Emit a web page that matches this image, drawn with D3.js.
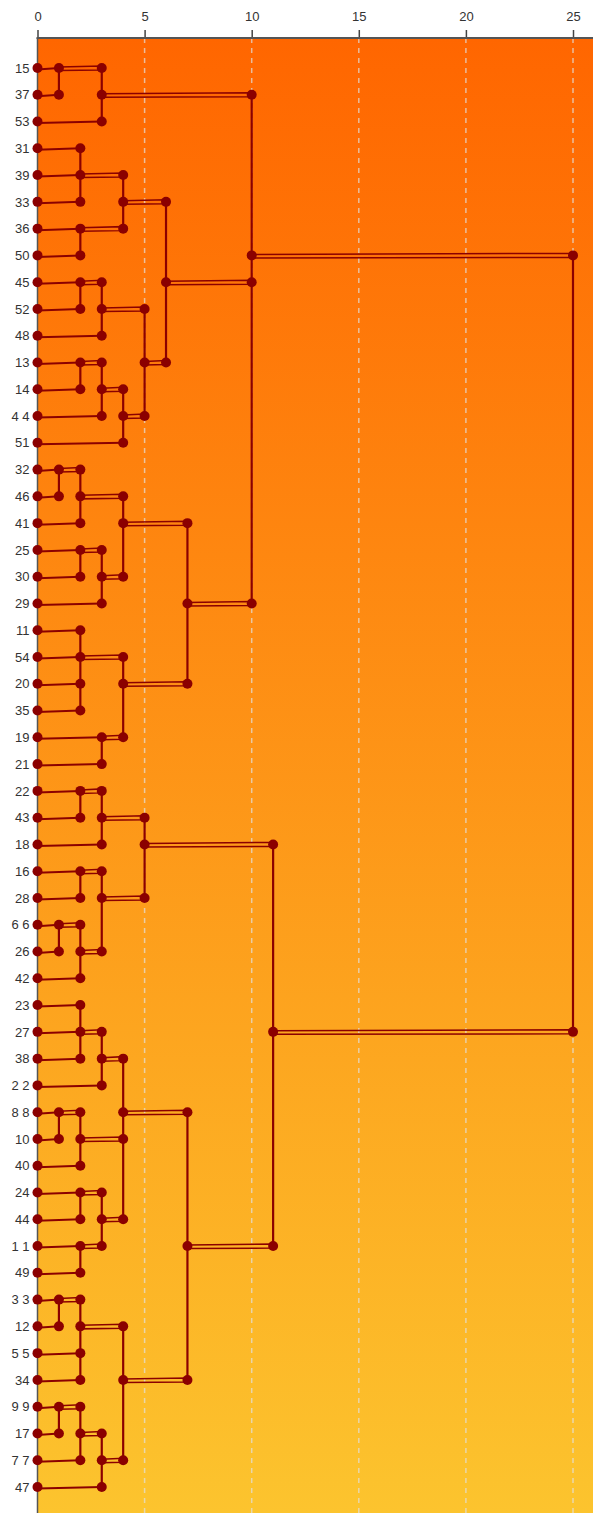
<!DOCTYPE html>
<html>
<head>
<meta charset="utf-8">
<script src="https://cdn.jsdelivr.net/npm/d3@7/dist/d3.min.js"></script>
<style>
  body { margin: 0; background: #fff; }
  text { font-family: "Liberation Sans", Arial, sans-serif; }
</style>
</head>
<body>
<div id="chart"></div>
<script>
// Row labels, top to bottom
const leaves = ["15", "37", "53", "31", "39", "33", "36", "50", "45", "52", "48", "13", "14", "4 4", "51",
  "32", "46", "41", "25", "30", "29", "11", "54", "20", "35", "19", "21", "22", "43", "18", "16", "28",
  "6 6", "26", "42", "23", "27", "38", "2 2", "8 8", "10", "40", "24", "44", "1 1", "49", "3 3", "12",
  "5 5", "34", "9 9", "17", "7 7", "47"];

const xTicks = [0, 5, 10, 15, 20, 25];

// merges: [height, row the new node sits on, children as [row, child height]]
const merges = [
  [1, "15", [["15", 0], ["37", 0]]],
  [3, "37", [["15", 1], ["53", 0]]],
  [2, "39", [["31", 0], ["39", 0], ["33", 0]]],
  [2, "36", [["36", 0], ["50", 0]]],
  [4, "33", [["39", 2], ["36", 2]]],
  [2, "45", [["45", 0], ["52", 0]]],
  [3, "52", [["45", 2], ["48", 0]]],
  [2, "13", [["13", 0], ["14", 0]]],
  [3, "14", [["13", 2], ["4 4", 0]]],
  [4, "4 4", [["14", 3], ["51", 0]]],
  [5, "13", [["52", 3], ["4 4", 4]]],
  [6, "45", [["33", 4], ["13", 5]]],
  [1, "32", [["32", 0], ["46", 0]]],
  [2, "46", [["32", 1], ["41", 0]]],
  [2, "25", [["25", 0], ["30", 0]]],
  [3, "30", [["25", 2], ["29", 0]]],
  [4, "41", [["46", 2], ["30", 3]]],
  [2, "54", [["11", 0], ["54", 0], ["20", 0], ["35", 0]]],
  [3, "19", [["19", 0], ["21", 0]]],
  [4, "20", [["54", 2], ["19", 3]]],
  [7, "29", [["41", 4], ["20", 4]]],
  [10, "50", [["37", 3], ["45", 6], ["29", 7]]],
  [2, "22", [["22", 0], ["43", 0]]],
  [3, "43", [["22", 2], ["18", 0]]],
  [2, "16", [["16", 0], ["28", 0]]],
  [1, "6 6", [["6 6", 0], ["26", 0]]],
  [2, "26", [["6 6", 1], ["42", 0]]],
  [3, "28", [["16", 2], ["26", 2]]],
  [5, "18", [["43", 3], ["28", 3]]],
  [2, "27", [["23", 0], ["27", 0], ["38", 0]]],
  [3, "38", [["27", 2], ["2 2", 0]]],
  [1, "8 8", [["8 8", 0], ["10", 0]]],
  [2, "10", [["8 8", 1], ["40", 0]]],
  [2, "24", [["24", 0], ["44", 0]]],
  [2, "1 1", [["1 1", 0], ["49", 0]]],
  [3, "44", [["24", 2], ["1 1", 2]]],
  [4, "8 8", [["38", 3], ["10", 2], ["44", 3]]],
  [1, "3 3", [["3 3", 0], ["12", 0]]],
  [2, "12", [["3 3", 1], ["5 5", 0], ["34", 0]]],
  [1, "9 9", [["9 9", 0], ["17", 0]]],
  [2, "17", [["9 9", 1], ["7 7", 0]]],
  [3, "7 7", [["17", 2], ["47", 0]]],
  [4, "34", [["12", 2], ["7 7", 3]]],
  [7, "1 1", [["8 8", 4], ["34", 4]]],
  [11, "27", [["18", 5], ["1 1", 7]]],
  [25, "50", [["50", 10], ["27", 11]]]
];

const width = 593, height = 1513;
const plotTop = 38, plotLeft = 37.5;
const lineColor = "#8b0000";

const svg = d3.select("#chart")
  .append("svg")
  .attr("width", width)
  .attr("height", height);

// Scales
const x = d3.scaleLinear().domain([0, 25]).range([plotLeft, 573]);
const y = d3.scalePoint().domain(leaves).range([plotTop, 1517]).padding(1.12);

// Background gradient
const grad = svg.append("defs").append("linearGradient")
  .attr("id", "bg").attr("x1", 0).attr("y1", 0).attr("x2", 0).attr("y2", 1);
grad.append("stop").attr("offset", "0%").attr("stop-color", "#ff6600");
grad.append("stop").attr("offset", "100%").attr("stop-color", "#fcc42e");

svg.append("rect")
  .attr("x", plotLeft).attr("y", plotTop)
  .attr("width", width - plotLeft).attr("height", height - plotTop)
  .attr("fill", "url(#bg)");

// Dashed grid
svg.append("g")
  .selectAll("line")
  .data(xTicks.filter(d => d > 0))
  .join("line")
  .attr("x1", d => x(d)).attr("x2", d => x(d))
  .attr("y1", plotTop).attr("y2", height)
  .attr("stroke", "#e0e0e0")
  .attr("stroke-opacity", 0.7)
  .attr("stroke-width", 1.5)
  .attr("stroke-dasharray", "5,5");

// Top axis
const xAxis = svg.append("g")
  .attr("transform", `translate(0,${plotTop})`)
  .call(d3.axisTop(x).tickValues(xTicks).tickSize(8).tickPadding(9));
xAxis.select(".domain").remove();
xAxis.selectAll(".tick line").attr("stroke", "#444").attr("stroke-width", 1.5);
xAxis.selectAll(".tick text").attr("fill", "#333").attr("font-size", 13);
svg.append("line")
  .attr("x1", plotLeft - 1).attr("x2", width)
  .attr("y1", plotTop).attr("y2", plotTop)
  .attr("stroke", "#555").attr("stroke-width", 2);

// Left axis
const yAxis = svg.append("g")
  .attr("transform", `translate(${plotLeft},0)`)
  .call(d3.axisLeft(y).tickSize(0).tickPadding(8));
yAxis.select(".domain").remove();
yAxis.selectAll(".tick text").attr("fill", "#333").attr("font-size", 13);
svg.append("line")
  .attr("x1", plotLeft).attr("x2", plotLeft)
  .attr("y1", plotTop).attr("y2", height)
  .attr("stroke", "#555").attr("stroke-width", 1.5);

// Links
const links = svg.append("g").attr("fill", "none").attr("stroke", lineColor);
const points = new Map();
const addPoint = (h, row) => points.set(h + "|" + row, [h, row]);

merges.forEach(([h, at, kids]) => {
  kids.forEach(([row, ch]) => {
    const x1 = x(ch), x2 = x(h), yy = y(row);
    if (ch === 0) {
      links.append("line")
        .attr("x1", x1).attr("y1", yy + 1.5).attr("x2", x2).attr("y2", yy)
        .attr("stroke-width", 2);
    } else {
      links.append("path")
        .attr("d", `M${x1},${yy - 1}L${x2},${yy - 2}L${x2},${yy + 2}L${x1},${yy + 2.5}Z`)
        .attr("stroke-width", 1.5);
    }
    addPoint(ch, row);
    addPoint(h, row);
  });
  const ys = kids.map(k => y(k[0]));
  links.append("line")
    .attr("x1", x(h)).attr("x2", x(h))
    .attr("y1", d3.min(ys)).attr("y2", d3.max(ys))
    .attr("stroke-width", 2.2);
  addPoint(h, at);
});

// Dots
svg.append("g")
  .selectAll("circle")
  .data(Array.from(points.values()))
  .join("circle")
  .attr("cx", d => x(d[0]))
  .attr("cy", d => y(d[1]))
  .attr("r", 5)
  .attr("fill", lineColor);
</script>
</body>
</html>
